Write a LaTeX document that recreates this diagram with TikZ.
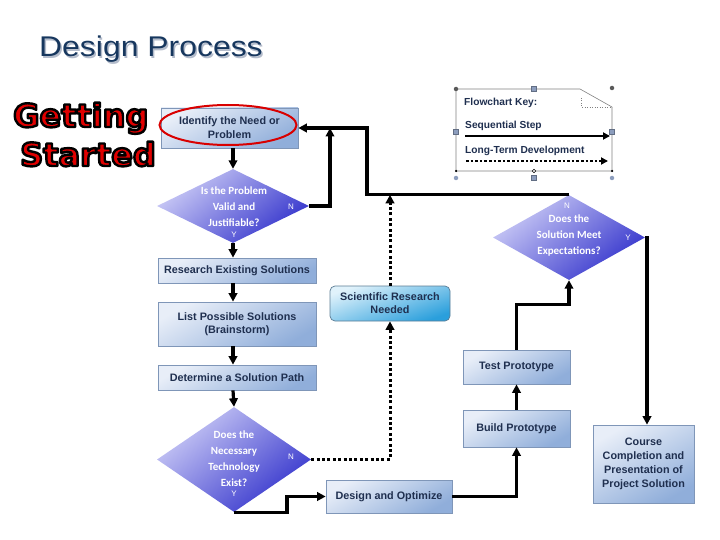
\documentclass[tikz,border=0pt]{standalone}
\usepackage{fontspec}
\setmainfont{Liberation Sans}
\newfontfamily\titlefont{Liberation Sans}[FakeStretch=1.12]
\newfontfamily\carl{Carlito}
\newfontfamily\djv{DejaVu Sans}
\usetikzlibrary{arrows.meta,shapes.geometric,calc}
\definecolor{navy}{HTML}{1F2F4F}
\definecolor{titleblue}{HTML}{17375E}
\definecolor{titleshadow}{HTML}{B4BCCB}
\definecolor{boxlight}{HTML}{E8EEF8}
\definecolor{boxdark}{HTML}{90AEDA}
\definecolor{boxedge}{HTML}{7F96B8}
\definecolor{dialight}{HTML}{CCCCF6}
\definecolor{diadark}{HTML}{3434CC}
\definecolor{scilight}{HTML}{E0F2FB}
\definecolor{scidark}{HTML}{2A9FDC}
\definecolor{scieedge}{HTML}{5C7C94}
\definecolor{handle}{HTML}{8C9DBD}
\definecolor{gsred}{HTML}{E00000}
\newcommand{\outlined}[1]{\special{pdf:literal direct 0 0 0 RG 2 Tr 2.4 w 1 j}#1\special{pdf:literal direct 0 Tr}}
\begin{document}
\begin{tikzpicture}[x=1pt,y=-1pt,
  stepbox/.style={draw=boxedge, line width=0.7pt, top color=boxlight, bottom color=boxdark,
    shading angle=30, inner sep=0, font=\bfseries\fontsize{10.8}{14}\selectfont, text=navy, align=center},
  decision/.style={diamond, inner sep=0, top color=dialight, bottom color=diadark, shading angle=40},
  dtext/.style={text=white, font=\carl\bfseries\fontsize{11}{16}\selectfont, align=center, inner sep=0},
  yn/.style={text=white, font=\fontsize{8}{9}\selectfont, inner sep=0},
  seq/.style={line width=3.2pt, line join=miter, -{Triangle[length=8.5pt,width=8.5pt]}},
  ltd/.style={line width=3pt, dash pattern=on 3pt off 2.4pt, -{Triangle[length=8.5pt,width=8.5pt]}},
  keytext/.style={text=navy, font=\bfseries\fontsize{10.2}{11}\selectfont, inner sep=0, anchor=base west},
  hsq/.style={rectangle, fill=handle, draw=handle!70!black, line width=0.3pt, minimum size=5pt, inner sep=0},
  hci/.style={circle, fill=handle, minimum size=4.5pt, inner sep=0},
  gstext/.style={font=\djv\bfseries\fontsize{32}{32}\selectfont, inner sep=0, anchor=base west, text=gsred}
]
\useasboundingbox (0,0) rectangle (720,540);

% Title
\node[anchor=base west, inner sep=0, text=titleshadow, font=\titlefont\fontsize{28.5}{30}\selectfont] (titleshadow) at (40.5,58.5) {Design Process};
\node[anchor=base west, inner sep=0, text=titleblue, font=\titlefont\fontsize{28.5}{30}\selectfont] (title) at (39,57) {Design Process};

% Getting Started (outlined)
\node[gstext] (getting) at (13,127) {\outlined{Getting}};
\node[gstext] (started) at (20,166) {\outlined{Started}};

% Boxes
\node[stepbox, minimum width=137pt, minimum height=40pt] (identify) at (229.5,128) {Identify the Need or\\Problem};
\draw[red!85!black, line width=2pt] (228,125) ellipse [x radius=68.5pt, y radius=20pt];
\node[stepbox, minimum width=158pt, minimum height=25pt] (research) at (237,270.5) {Research Existing Solutions};
\node[stepbox, minimum width=158pt, minimum height=44pt, font=\bfseries\fontsize{10.8}{13}\selectfont] (list) at (237,324) {List Possible Solutions\\(Brainstorm)};
\node[stepbox, minimum width=158pt, minimum height=25pt] (determine) at (237,377.5) {Determine a Solution Path};
\node[stepbox, minimum width=126pt, minimum height=33pt] (design) at (389,496.5) {Design and Optimize};
\node[stepbox, minimum width=107pt, minimum height=37pt] (build) at (516.5,428.5) {Build Prototype};
\node[stepbox, minimum width=107pt, minimum height=34pt] (test) at (516.5,367) {Test Prototype};
\node[stepbox, minimum width=101pt, minimum height=78pt] (course) at (643.5,464) {Course\\Completion and\\Presentation of\\Project Solution};
\node[stepbox, rounded corners=5pt, draw=scieedge, top color=scilight, bottom color=scidark, shading angle=20,
  minimum width=120pt, minimum height=35pt, font=\bfseries\fontsize{10.8}{13}\selectfont] (sci) at (390,303.5) {Scientific Research\\Needed};

% Decisions
\node[decision, minimum width=152pt, minimum height=74pt] (d1) at (233,206) {};
\node[dtext] (d1t) at (234,207) {Is the Problem\\Valid and\\Justifiable?};
\node[yn] (d1n) at (291,207) {N};
\node[yn] (d1y) at (234,235) {Y};

\node[decision, minimum width=152pt, minimum height=85pt] (d2) at (569,237.5) {};
\node[dtext] (d2t) at (569,236) {Does the\\Solution Meet\\Expectations?};
\node[yn] (d2n) at (567,206) {N};
\node[yn] (d2y) at (628,238) {Y};

\node[decision, minimum width=154pt, minimum height=105pt] (d3) at (234,459.5) {};
\node[dtext] (d3t) at (234,459) {Does the\\Necessary\\Technology\\Exist?};
\node[yn] (d3n) at (291,457) {N};
\node[yn] (d3y) at (234,494) {Y};

% Junction coordinates
\coordinate (jn) at (367,128);
\coordinate (jl) at (330,128);

% Sequential connectors
\draw[seq] (d1.north |- identify.south) -- (d1.north);
\draw[seq] (d1.south) -- (d1.south |- research.north);
\draw[seq] (d1.south |- research.south) -- (d1.south |- list.north);
\draw[seq] (d1.south |- list.south) -- (d1.south |- determine.north);
\draw[seq] (d1.south |- determine.south) -- (d3.north);
\draw[seq] (d3.south) -- ++(53,0) |- (design.west);
\draw[seq] (design.east) -| (build.south);
\draw[seq] (build.north) -- (test.south);
\draw[seq] (test.north) -- ++(0,-45) -| (d2.south);
\draw[seq] (d2.east) -| ($(course.north)+(3.5,0)$);
\draw[seq] (d2.north) -| (jn) -- (identify.east);
\draw[seq] (d1.east) -| (jl);

% Long-term development connectors
\draw[ltd] (d3.east) -| (sci.south);
\draw[ltd] (sci.north) -- (sci.north |- d2.north);

% Flowchart key
\draw[gray, line width=0.6pt] (456,89) -- (580,89) -- (612,107) -- (612,171) -- (456,171) -- cycle;
\draw[gray, line width=0.5pt, dotted] (581,98) -- (581,107) -- (612,107);
\node[keytext] (keytitle) at (464,106) {Flowchart Key:};
\node[keytext] (keyseq) at (465,129) {Sequential Step};
\node[keytext] (keyltd) at (465,154) {Long-Term Development};
\coordinate (ks1) at (465,136);
\coordinate (ks2) at (610,136);
\coordinate (kl1) at (466,161);
\coordinate (kl2) at (608,161);
\draw[line width=2.2pt, -{Triangle[length=7pt,width=7pt]}] (ks1) -- (ks2);
\draw[line width=2.6pt, dash pattern=on 2.6pt off 2pt, -{Triangle[length=7pt,width=7pt]}] (kl1) -- (kl2);
\node[hsq] (h1) at (534,89) {};
\node[hsq] (h2) at (456,132) {};
\node[hsq] (h3) at (612,132) {};
\node[hsq] (h4) at (534,178) {};
\node[hci, fill=gray!70!black] (c1) at (456,89) {};
\node[hci, fill=gray!70!black] (c2) at (612,88) {};
\node[hci] (c3) at (456,178) {};
\node[hci] (c4) at (612,178) {};
\node[circle, fill=black, minimum size=2.5pt, inner sep=0] (c5) at (456,171) {};
\node[circle, fill=black, minimum size=2.5pt, inner sep=0] (c6) at (612,171) {};
\node[circle, fill=white, draw=black, line width=0.4pt, minimum size=3.5pt, inner sep=0] (c7) at (534,171) {};
\end{tikzpicture}
\end{document}
